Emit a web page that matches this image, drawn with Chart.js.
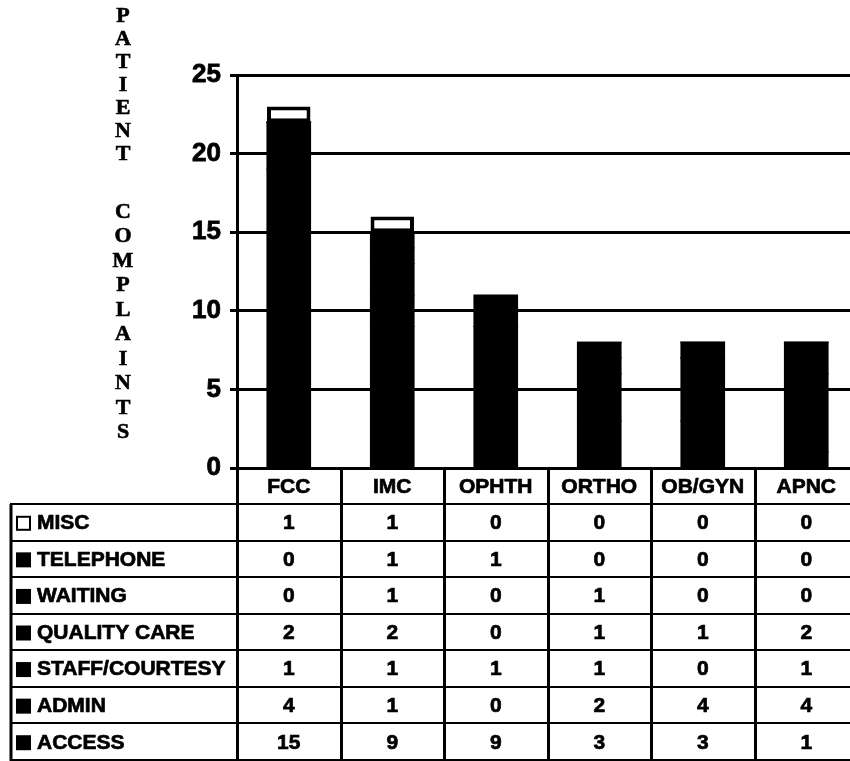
<!DOCTYPE html>
<html>
<head>
<meta charset="utf-8">
<title>Patient Complaints by Clinic</title>
<script src="https://cdn.jsdelivr.net/npm/chart.js@4.4.1/dist/chart.umd.min.js"></script>
<style>
  html, body { margin: 0; padding: 0; background: #fff; overflow: hidden; }
  #wrap { position: relative; width: 860px; height: 761px; }
</style>
</head>
<body>
<div id="wrap"><canvas id="chart"></canvas></div>
<script>
// Clinics along the x axis
const categories = ['FCC', 'IMC', 'OPHTH', 'ORTHO', 'OB/GYN', 'APNC'];

// Complaint counts per category (table order, top row first)
const misc          = [1, 1, 0, 0, 0, 0];
const telephone     = [0, 1, 1, 0, 0, 0];
const waiting       = [0, 1, 0, 1, 0, 0];
const qualityCare   = [2, 2, 0, 1, 1, 2];
const staffCourtesy = [1, 1, 1, 1, 0, 1];
const admin         = [4, 1, 0, 2, 4, 4];
const access        = [15, 9, 9, 3, 3, 1];

const seriesNames = ['MISC', 'TELEPHONE', 'WAITING', 'QUALITY CARE', 'STAFF/COURTESY', 'ADMIN', 'ACCESS'];
const seriesData  = [misc, telephone, waiting, qualityCare, staffCourtesy, admin, access];
const yTicks = [0, 5, 10, 15, 20, 25];
const yTitleWords = ['PATIENT', 'COMPLAINTS'];

const BOLD_SANS = '"Liberation Sans", Arial, sans-serif';
const BOLD_SERIF = '"Liberation Serif", "Times New Roman", serif';

function fillFor(name) { return name === 'MISC' ? '#ffffff' : '#000000'; }

// Datasets stack from the bottom row of the table upward
const datasets = seriesNames.map((name, i) => {
  const isMisc = name === 'MISC';
  return {
    label: name,
    data: seriesData[i],
    backgroundColor: fillFor(name),
    borderColor: '#000000',
    borderWidth: isMisc ? 4 : 0,
    borderSkipped: isMisc ? false : 'start',
    inflateAmount: isMisc ? 0 : 0.6,
    barPercentage: 0.42,
    categoryPercentage: 1.0
  };
}).reverse();

// Stacked letters of the vertical axis title
const letterTitle = {
  id: 'letterTitle',
  afterDraw(chart) {
    const ctx = chart.ctx;
    ctx.save();
    ctx.fillStyle = '#000';
    ctx.strokeStyle = '#000';
    ctx.lineWidth = 0.6;
    ctx.font = 'bold 22px ' + BOLD_SERIF;
    ctx.textAlign = 'center';
    ctx.textBaseline = 'middle';
    const starts = [15, 211];
    const steps = [23, 24.5];
    yTitleWords.forEach((word, w) => {
      word.split('').forEach((c, i) => {
        const y = starts[w] + i * steps[w] + 1;
        ctx.fillText(c, 123, y);
        ctx.strokeText(c, 123, y);
      });
    });
    ctx.restore();
  }
};

// Data table under the plot, aligned with the category scale
const dataTable = {
  id: 'dataTable',
  afterDraw(chart) {
    const ctx = chart.ctx;
    const area = chart.chartArea;
    const xs = chart.scales.x;
    const n = categories.length;
    const colW = (area.right - area.left) / n;
    const headTop = area.bottom;
    const headBottom = 504;
    const tableBottom = 760;
    const tableLeft = 11;
    const rowH = (tableBottom - headBottom) / seriesNames.length;

    ctx.save();
    ctx.strokeStyle = '#000';
    ctx.lineWidth = 3;
    ctx.beginPath();
    for (let i = 0; i <= n; i++) {
      const x = Math.round(area.left + i * colW) + 0.5;
      ctx.moveTo(x, headTop);
      ctx.lineTo(x, tableBottom + 1);
    }
    ctx.moveTo(tableLeft, headBottom);
    ctx.lineTo(tableLeft, tableBottom + 1);
    ctx.stroke();
    ctx.lineWidth = 2;
    ctx.beginPath();
    for (let r = 0; r <= seriesNames.length; r++) {
      const y = Math.round(headBottom + r * rowH);
      ctx.moveTo(tableLeft - 1, y);
      ctx.lineTo(area.right + 2, y);
    }
    ctx.stroke();

    const txt = (s, x, y) => { ctx.fillText(s, x, y); ctx.strokeText(s, x, y); };
    ctx.fillStyle = '#000';
    ctx.lineWidth = 0.7;
    ctx.font = 'bold 21px ' + BOLD_SANS;
    ctx.textAlign = 'center';
    ctx.textBaseline = 'middle';
    categories.forEach((c, i) => {
      txt(c, xs.getPixelForValue(i), (headTop + headBottom) / 2 + 1);
    });

    seriesNames.forEach((name, r) => {
      const yc = headBottom + (r + 0.5) * rowH + 1;
      const sx = 16, sz = 15;
      if (name === 'MISC') {
        ctx.fillStyle = '#fff';
        ctx.fillRect(sx, yc - sz / 2, sz, sz);
        ctx.lineWidth = 2;
        ctx.strokeRect(sx + 1, yc - sz / 2 + 1, sz - 2, sz - 2);
        ctx.lineWidth = 0.7;
      } else {
        ctx.fillStyle = fillFor(name);
        ctx.fillRect(sx, yc - sz / 2, sz, sz);
      }
      ctx.fillStyle = '#000';
      ctx.textAlign = 'left';
      txt(name, 37, yc);
      ctx.textAlign = 'center';
      seriesData[r].forEach((v, i) => {
        txt(String(v), xs.getPixelForValue(i), yc);
      });
    });
    ctx.restore();
  }
};

new Chart(document.getElementById('chart'), {
  type: 'bar',
  data: { labels: categories, datasets },
  options: {
    responsive: true,
    maintainAspectRatio: false,
    animation: false,
    layout: { padding: { top: 75, right: 2, bottom: 293, left: 0 } },
    plugins: {
      legend: { display: false },
      tooltip: { enabled: false },
      title: { display: false }
    },
    scales: {
      x: {
        stacked: true,
        display: false,
        offset: true
      },
      y: {
        stacked: true,
        min: 0,
        max: 25,
        afterBuildTicks(scale) { scale.ticks = yTicks.map(v => ({ value: v })); },
        afterFit(scale) { scale.width = 237; },
        border: { display: true, color: '#000', width: 3 },
        grid: { color: '#000', lineWidth: 3, tickLength: 7, drawTicks: true },
        ticks: {
          color: '#000',
          padding: 9,
          textStrokeColor: '#000',
          textStrokeWidth: 0.8,
          font: { family: BOLD_SANS, size: 26, weight: 'bold' }
        }
      }
    }
  },
  plugins: [letterTitle, dataTable]
});
</script>
</body>
</html>
